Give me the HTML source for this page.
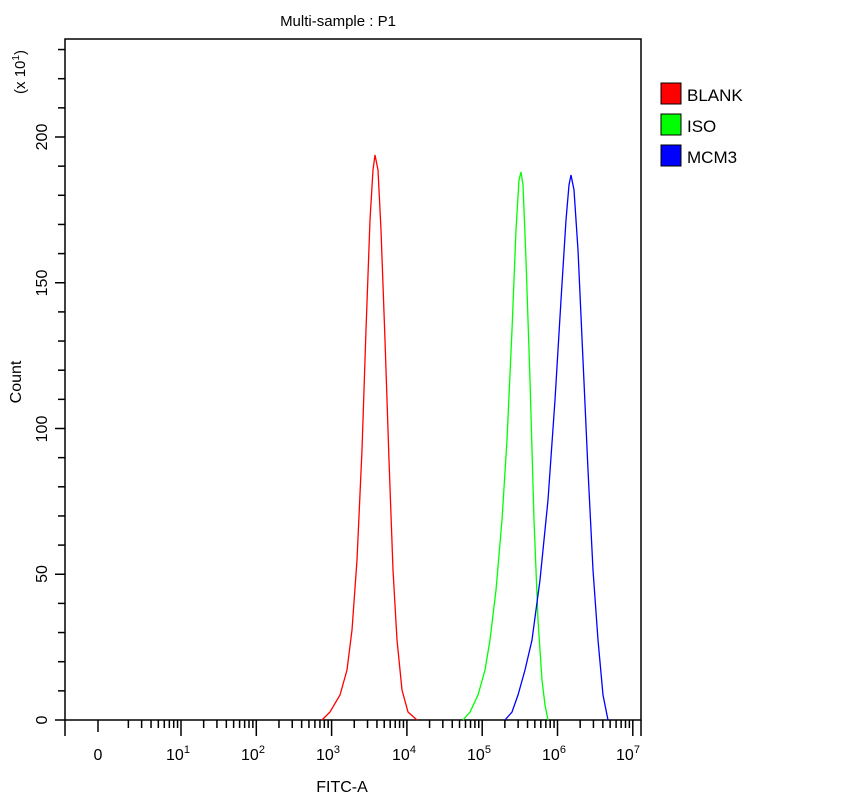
<!DOCTYPE html>
<html><head><meta charset="utf-8"><style>
html,body{margin:0;padding:0;background:#fff;width:860px;height:800px;overflow:hidden}
text{font-family:"Liberation Sans",sans-serif;fill:#000}
</style></head><body>
<svg id="s" width="860" height="800" xmlns="http://www.w3.org/2000/svg">
<rect x="65" y="39" width="576" height="681" fill="none" stroke="#000" stroke-width="1.5"/>
<text x="338" y="26" font-size="15" text-anchor="middle">Multi-sample : P1</text>
<text x="342" y="792" font-size="16" text-anchor="middle">FITC-A</text>
<text transform="translate(21,382) rotate(-90)" font-size="16" text-anchor="middle">Count</text>
<text transform="translate(25,72) rotate(-90)" font-size="15" text-anchor="middle">(x 10<tspan dy="-6" font-size="10">1</tspan><tspan dy="6">)</tspan></text>
<g font-size="16" text-anchor="middle">
<text transform="translate(47,720) rotate(-90)">0</text>
<text transform="translate(47,574) rotate(-90)">50</text>
<text transform="translate(47,429) rotate(-90)">100</text>
<text transform="translate(47,283) rotate(-90)">150</text>
<text transform="translate(47,137) rotate(-90)">200</text>
</g>
<g id="ticks" stroke="#000" stroke-width="1.5"></g>
<g font-size="16" text-anchor="middle">
<text x="98" y="760">0</text>
<text x="178" y="760">10<tspan dy="-7" font-size="11">1</tspan></text>
<text x="253" y="760">10<tspan dy="-7" font-size="11">2</tspan></text>
<text x="328" y="760">10<tspan dy="-7" font-size="11">3</tspan></text>
<text x="404" y="760">10<tspan dy="-7" font-size="11">4</tspan></text>
<text x="479" y="760">10<tspan dy="-7" font-size="11">5</tspan></text>
<text x="554" y="760">10<tspan dy="-7" font-size="11">6</tspan></text>
<text x="628" y="760">10<tspan dy="-7" font-size="11">7</tspan></text>
</g>
<polyline fill="none" stroke="#f00" stroke-width="1.3" points="322,720 330,712 340,695 347,670 352,630 357,560 362,450 366,330 370,220 373,170 375,155 378,170 381,230 385,340 389,460 393,570 397,640 402,690 408,712 417,720"/>
<polyline fill="none" stroke="#0f0" stroke-width="1.3" points="463,720 470,712 478,695 485,670 490,640 496,590 502,520 507,440 512,330 516,230 519,180 521,172 523,185 526,260 530,380 534,520 538,620 542,680 545,705 548,720"/>
<polyline fill="none" stroke="#00f" stroke-width="1.3" points="505,720 512,712 518,695 525,670 532,640 540,580 548,500 555,400 561,300 566,220 569,185 571,175 574,190 578,250 583,360 588,470 593,570 598,640 603,695 608,720"/>
<rect x="661" y="83" width="20" height="21" fill="#f00" stroke="#000"/>
<rect x="661" y="114" width="20" height="21" fill="#0f0" stroke="#000"/>
<rect x="661" y="145" width="20" height="21" fill="#00f" stroke="#000"/>
<g font-size="17"><text x="687" y="101">BLANK</text><text x="687" y="132">ISO</text><text x="687" y="163">MCM3</text></g>
</svg>
<script>
var g=document.getElementById('ticks'),ns='http://www.w3.org/2000/svg';
function L(x1,y1,x2,y2){var l=document.createElementNS(ns,'line');l.setAttribute('x1',x1);l.setAttribute('y1',y1);l.setAttribute('x2',x2);l.setAttribute('y2',y2);g.appendChild(l);}
for(var v=0;v<=230;v+=10){var y=720-v*2.915;if(y<40)break;L(65,y,v%50==0?55:58,y);}
var d=75.3,x1=181;
L(98,720,98,732);
for(var k=0;k<=6;k++){var x=x1+k*d;L(x,720,x,736);
 for(var m=2;m<10;m++){var xm=x-d+Math.log10(m)*d;if(xm>66)L(xm,720,xm,728);}}
L(65,720,65,736);L(641,720,641,736);
</script>
</body></html>
